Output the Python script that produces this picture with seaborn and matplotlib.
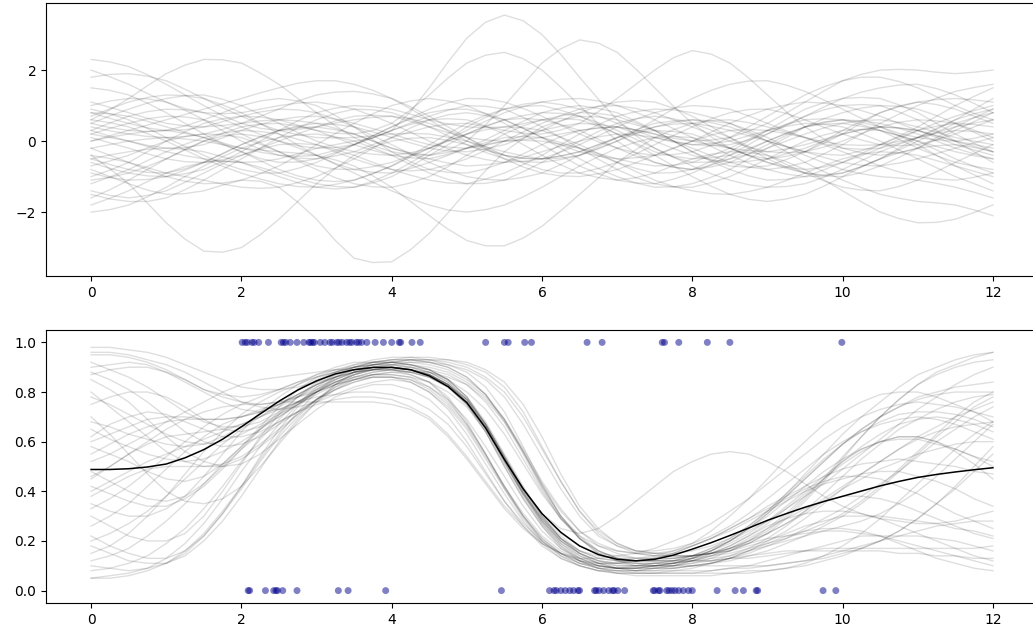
import sys
import numpy as np
import matplotlib
matplotlib.use("Agg")
import matplotlib.pyplot as plt
import seaborn as sns

# ---------------- data ----------------
# sample positions: 0, 0.25, ..., 12 (49 points)
x_grid = [i * 0.25 for i in range(49)]

# prior samples (top panel), values read at x = 0, 0.25, ..., 12
prior_01 = [0.2,0.1,0.0,-0.15,-0.3,-0.41,-0.5,-0.57,-0.6,-0.58,-0.5,-0.36,-0.2,-0.1,0.0,0.09,0.3,0.83,1.5,2.23,2.9,3.35,3.55,3.39,3.0,2.44,1.8,1.18,0.6,0.15,-0.2,-0.46,-0.6,-0.59,-0.5,-0.37,-0.2,0.0,0.2,0.37,0.5,0.58,0.6,0.53,0.4,0.25,0.1,0.0,-0.1]
prior_02 = [-0.5,-0.66,-0.8,-0.88,-0.9,-0.78,-0.6,-0.36,-0.1,0.12,0.3,0.38,0.4,0.32,0.2,0.0,-0.2,-0.33,-0.4,-0.25,0.0,0.46,1.0,1.6,2.2,2.6,2.85,2.76,2.5,2.03,1.5,0.98,0.5,0.12,-0.2,-0.4,-0.5,-0.43,-0.3,-0.06,0.2,0.51,0.8,0.99,1.1,1.03,0.9,0.7,0.5]
prior_03 = [1.0,1.13,1.2,1.19,1.1,0.87,0.6,0.29,0.0,-0.23,-0.4,-0.48,-0.5,-0.42,-0.3,-0.1,0.1,0.26,0.4,0.48,0.5,0.41,0.3,0.22,0.2,0.31,0.5,0.83,1.2,1.6,2.0,2.35,2.55,2.45,2.2,1.78,1.3,0.83,0.4,0.06,-0.2,-0.33,-0.4,-0.33,-0.2,0.04,0.3,0.55,0.8]
prior_04 = [-1.0,-0.82,-0.6,-0.3,0.0,0.26,0.5,0.63,0.7,0.68,0.6,0.45,0.3,0.22,0.2,0.3,0.5,0.88,1.3,1.78,2.2,2.42,2.5,2.32,2.0,1.52,1.0,0.48,0.0,-0.34,-0.6,-0.74,-0.8,-0.68,-0.5,-0.25,0.0,0.22,0.4,0.48,0.5,0.42,0.3,0.15,0.0,-0.15,-0.3,-0.41,-0.5]
prior_05 = [-0.8,-1.0,-1.2,-1.38,-1.5,-1.48,-1.4,-1.24,-1.1,-1.13,-1.3,-1.72,-2.2,-2.8,-3.3,-3.42,-3.4,-3.06,-2.6,-2.02,-1.4,-0.83,-0.3,0.07,0.4,0.58,0.7,0.68,0.6,0.46,0.3,0.15,0.0,-0.11,-0.2,-0.27,-0.3,-0.22,-0.1,0.05,0.2,0.32,0.4,0.37,0.3,0.15,0.0,-0.1,-0.2]
prior_06 = [-0.4,-0.78,-1.2,-1.75,-2.3,-2.76,-3.1,-3.13,-3.0,-2.64,-2.2,-1.7,-1.2,-0.77,-0.4,-0.17,0.0,0.08,0.1,0.02,-0.1,-0.26,-0.4,-0.48,-0.5,-0.42,-0.3,-0.1,0.1,0.27,0.4,0.48,0.5,0.42,0.3,0.15,0.0,-0.15,-0.3,-0.46,-0.6,-0.68,-0.7,-0.62,-0.5,-0.35,-0.2,-0.05,0.1]
prior_07 = [0.8,0.77,0.7,0.56,0.4,0.25,0.1,-0.05,-0.2,-0.25,-0.3,-0.34,-0.4,-0.53,-0.7,-0.98,-1.3,-1.7,-2.1,-2.48,-2.8,-2.95,-2.95,-2.73,-2.4,-1.96,-1.5,-1.04,-0.6,-0.24,0.1,0.32,0.5,0.58,0.6,0.52,0.4,0.25,0.1,-0.02,-0.1,-0.12,-0.1,-0.01,0.1,0.25,0.4,0.51,0.6]
prior_08 = [2.3,2.23,2.1,1.87,1.6,1.3,1.0,0.72,0.5,0.36,0.3,0.33,0.4,0.51,0.6,0.67,0.7,0.63,0.5,0.31,0.1,-0.16,-0.4,-0.62,-0.8,-0.9,-0.9,-0.77,-0.6,-0.36,-0.1,0.16,0.4,0.63,0.8,0.89,0.9,0.78,0.6,0.39,0.2,0.03,-0.1,-0.13,-0.1,0.03,0.2,0.4,0.6]
prior_09 = [-2.0,-1.93,-1.8,-1.57,-1.3,-1.0,-0.7,-0.44,-0.2,-0.03,0.1,0.17,0.2,0.12,0.0,-0.19,-0.4,-0.66,-0.9,-1.08,-1.2,-1.19,-1.1,-0.86,-0.6,-0.29,0.0,0.27,0.5,0.63,0.7,0.63,0.5,0.31,0.1,-0.15,-0.4,-0.66,-0.9,-1.12,-1.3,-1.38,-1.4,-1.28,-1.1,-0.86,-0.6,-0.35,-0.1]
prior_10 = [0.5,0.71,0.9,1.07,1.2,1.28,1.3,1.18,1.0,0.76,0.5,0.24,0.0,-0.17,-0.3,-0.37,-0.4,-0.33,-0.2,0.0,0.2,0.41,0.6,0.72,0.8,0.78,0.7,0.52,0.3,0.05,-0.2,-0.45,-0.7,-0.92,-1.1,-1.23,-1.3,-1.28,-1.2,-1.02,-0.8,-0.55,-0.3,-0.09,0.1,0.22,0.3,0.27,0.2]
prior_11 = [-1.5,-1.63,-1.7,-1.7,-1.6,-1.37,-1.1,-0.8,-0.5,-0.2,0.1,0.37,0.6,0.78,0.9,0.88,0.8,0.62,0.4,0.15,-0.1,-0.32,-0.5,-0.58,-0.6,-0.52,-0.4,-0.2,0.0,0.21,0.4,0.53,0.6,0.57,0.5,0.31,0.1,-0.15,-0.4,-0.61,-0.8,-0.92,-1.0,-1.04,-1.1,-1.19,-1.3,-1.44,-1.6]
prior_12 = [1.5,1.43,1.3,1.07,0.8,0.5,0.2,-0.07,-0.3,-0.49,-0.6,-0.59,-0.5,-0.32,-0.1,0.15,0.4,0.66,0.9,1.08,1.2,1.19,1.1,0.92,0.7,0.45,0.2,-0.02,-0.2,-0.33,-0.4,-0.38,-0.3,-0.12,0.1,0.4,0.7,1.0,1.3,1.53,1.7,1.8,1.8,1.68,1.5,1.25,1.0,0.78,0.6]
prior_13 = [0.0,0.15,0.3,0.45,0.6,0.75,0.9,1.05,1.2,1.36,1.5,1.63,1.7,1.7,1.6,1.43,1.2,0.91,0.6,0.28,0.0,-0.22,-0.4,-0.49,-0.5,-0.42,-0.3,-0.1,0.1,0.23,0.3,0.27,0.2,0.0,-0.2,-0.41,-0.6,-0.73,-0.8,-0.73,-0.6,-0.41,-0.2,0.05,0.3,0.51,0.7,0.86,1.0]
prior_14 = [-0.7,-0.56,-0.4,-0.19,0.0,0.13,0.2,0.18,0.1,-0.09,-0.3,-0.56,-0.8,-1.03,-1.2,-1.29,-1.3,-1.18,-1.0,-0.72,-0.4,-0.1,0.2,0.43,0.6,0.64,0.6,0.42,0.2,-0.1,-0.4,-0.7,-1.0,-1.27,-1.5,-1.64,-1.7,-1.63,-1.5,-1.27,-1.0,-0.73,-0.5,-0.33,-0.2,-0.13,-0.1,-0.18,-0.3]
prior_15 = [0.9,0.77,0.6,0.36,0.1,-0.15,-0.4,-0.63,-0.8,-0.9,-0.9,-0.77,-0.6,-0.36,-0.1,0.15,0.4,0.63,0.8,0.89,0.9,0.78,0.6,0.36,0.1,-0.2,-0.5,-0.77,-1.0,-1.18,-1.3,-1.29,-1.2,-1.02,-0.8,-0.5,-0.2,0.1,0.4,0.63,0.8,0.93,1.0,0.98,0.9,0.72,0.5,0.25,0.0]
prior_16 = [-0.2,-0.4,-0.6,-0.81,-1.0,-1.13,-1.2,-1.18,-1.1,-0.92,-0.7,-0.41,-0.1,0.21,0.5,0.77,1.0,1.13,1.2,1.13,1.0,0.77,0.5,0.2,-0.1,-0.41,-0.7,-0.92,-1.1,-1.18,-1.2,-1.07,-0.9,-0.66,-0.4,-0.1,0.2,0.47,0.7,0.88,1.0,1.03,1.0,0.82,0.6,0.3,0.0,-0.3,-0.6]
prior_17 = [1.8,1.88,1.9,1.83,1.7,1.46,1.2,0.94,0.7,0.48,0.3,0.18,0.1,0.09,0.1,0.15,0.2,0.22,0.2,0.11,0.0,-0.16,-0.3,-0.42,-0.5,-0.48,-0.4,-0.22,0.0,0.29,0.6,0.91,1.2,1.43,1.6,1.69,1.7,1.58,1.4,1.16,0.9,0.64,0.4,0.22,0.1,0.03,0.0,0.08,0.2]
prior_18 = [-1.2,-1.01,-0.8,-0.55,-0.3,-0.09,0.1,0.22,0.3,0.27,0.2,0.05,-0.1,-0.3,-0.5,-0.67,-0.8,-0.84,-0.8,-0.67,-0.5,-0.26,0.0,0.26,0.5,0.72,0.9,0.98,1.0,0.92,0.8,0.6,0.4,0.19,0.0,-0.17,-0.3,-0.33,-0.3,-0.17,0.0,0.21,0.4,0.53,0.6,0.57,0.5,0.31,0.1]
prior_19 = [0.4,0.29,0.2,0.13,0.1,0.13,0.2,0.33,0.5,0.7,0.9,1.13,1.3,1.38,1.4,1.33,1.2,0.97,0.7,0.4,0.1,-0.21,-0.5,-0.73,-0.9,-0.98,-1.0,-0.92,-0.8,-0.61,-0.4,-0.19,0.0,0.17,0.3,0.33,0.3,0.21,0.1,-0.1,-0.3,-0.5,-0.7,-0.87,-1.0,-1.07,-1.1,-1.02,-0.9]
prior_20 = [-0.9,-1.03,-1.1,-1.08,-1.0,-0.82,-0.6,-0.35,-0.1,0.11,0.3,0.42,0.5,0.47,0.4,0.26,0.1,-0.05,-0.2,-0.28,-0.3,-0.22,-0.1,0.09,0.3,0.56,0.8,0.98,1.1,1.14,1.1,0.93,0.7,0.41,0.1,-0.21,-0.5,-0.73,-0.9,-0.98,-1.0,-0.89,-0.7,-0.46,-0.2,0.1,0.4,0.66,0.9]
prior_21 = [2.0,1.81,1.6,1.34,1.1,0.92,0.8,0.77,0.8,0.9,1.0,1.07,1.1,1.02,0.9,0.71,0.5,0.25,0.0,-0.22,-0.4,-0.52,-0.6,-0.57,-0.5,-0.31,-0.1,0.15,0.4,0.62,0.8,0.93,1.0,0.97,0.9,0.71,0.5,0.29,0.1,-0.07,-0.2,-0.23,-0.2,-0.06,0.1,0.33,0.6,0.9,1.2]
prior_22 = [-1.8,-1.61,-1.4,-1.14,-0.9,-0.72,-0.6,-0.56,-0.6,-0.74,-0.9,-1.06,-1.2,-1.28,-1.3,-1.18,-1.0,-0.72,-0.4,-0.1,0.2,0.43,0.6,0.64,0.6,0.47,0.3,0.05,-0.2,-0.42,-0.6,-0.73,-0.8,-0.73,-0.6,-0.36,-0.1,0.16,0.4,0.54,0.6,0.53,0.4,0.16,-0.1,-0.4,-0.7,-0.95,-1.2]
prior_23 = [0.1,-0.05,-0.2,-0.36,-0.5,-0.58,-0.6,-0.52,-0.4,-0.2,0.0,0.2,0.4,0.57,0.7,0.73,0.7,0.56,0.4,0.24,0.1,0.03,0.0,0.04,0.1,0.2,0.3,0.37,0.4,0.32,0.2,0.0,-0.2,-0.41,-0.6,-0.73,-0.8,-0.73,-0.6,-0.36,-0.1,0.2,0.5,0.76,1.0,1.21,1.4,1.51,1.6]
prior_24 = [0.7,0.91,1.1,1.23,1.3,1.28,1.2,1.02,0.8,0.5,0.2,-0.11,-0.4,-0.63,-0.8,-0.88,-0.9,-0.77,-0.6,-0.4,-0.2,-0.04,0.1,0.13,0.1,-0.04,-0.2,-0.4,-0.6,-0.77,-0.9,-0.89,-0.8,-0.57,-0.3,0.0,0.3,0.61,0.9,1.08,1.2,1.23,1.2,1.02,0.8,0.5,0.2,-0.06,-0.3]
prior_25 = [-0.5,-0.39,-0.3,-0.23,-0.2,-0.23,-0.3,-0.44,-0.6,-0.8,-1.0,-1.17,-1.3,-1.35,-1.3,-1.13,-0.9,-0.61,-0.3,0.05,0.4,0.67,0.9,1.04,1.1,1.03,0.9,0.71,0.5,0.29,0.1,-0.03,-0.1,-0.07,0.0,0.15,0.3,0.42,0.5,0.47,0.4,0.21,0.0,-0.25,-0.5,-0.75,-1.0,-1.2,-1.4]
prior_26 = [1.1,0.95,0.8,0.64,0.5,0.43,0.4,0.44,0.5,0.57,0.6,0.57,0.5,0.36,0.2,0.0,-0.2,-0.36,-0.5,-0.62,-0.7,-0.67,-0.6,-0.46,-0.3,-0.14,0.0,0.12,0.2,0.17,0.1,0.0,-0.1,-0.13,-0.1,0.03,0.2,0.44,0.7,0.96,1.2,1.38,1.5,1.58,1.6,1.48,1.3,1.06,0.8]
prior_27 = [-1.4,-1.53,-1.6,-1.53,-1.4,-1.16,-0.9,-0.64,-0.4,-0.23,-0.1,-0.07,-0.1,-0.24,-0.4,-0.6,-0.8,-0.96,-1.1,-1.18,-1.2,-1.07,-0.9,-0.66,-0.4,-0.1,0.2,0.46,0.7,0.83,0.9,0.88,0.8,0.67,0.5,0.26,0.0,-0.3,-0.6,-0.86,-1.1,-1.31,-1.5,-1.61,-1.7,-1.74,-1.8,-1.94,-2.1]
prior_28 = [0.2,0.36,0.5,0.63,0.7,0.68,0.6,0.42,0.2,-0.05,-0.3,-0.52,-0.7,-0.79,-0.8,-0.72,-0.6,-0.41,-0.2,0.05,0.3,0.56,0.8,0.97,1.1,1.18,1.2,1.13,1.0,0.81,0.6,0.35,0.1,-0.15,-0.4,-0.62,-0.8,-0.93,-1.0,-0.98,-0.9,-0.72,-0.5,-0.25,0.0,0.25,0.5,0.66,0.8]
prior_29 = [0.6,0.52,0.4,0.21,0.0,-0.25,-0.5,-0.71,-0.9,-1.07,-1.2,-1.28,-1.3,-1.22,-1.1,-0.91,-0.7,-0.45,-0.2,0.01,0.2,0.32,0.4,0.38,0.3,0.11,-0.1,-0.35,-0.6,-0.86,-1.1,-1.28,-1.4,-1.48,-1.5,-1.42,-1.3,-1.11,-0.9,-0.69,-0.5,-0.37,-0.3,-0.33,-0.4,-0.55,-0.7,-0.85,-1.0]
prior_30 = [-0.2,-0.1,0.0,0.06,0.1,0.06,0.0,-0.1,-0.2,-0.31,-0.4,-0.43,-0.4,-0.26,-0.1,0.1,0.3,0.47,0.6,0.63,0.6,0.42,0.2,-0.1,-0.4,-0.67,-0.9,-1.03,-1.1,-1.03,-0.9,-0.69,-0.5,-0.37,-0.3,-0.32,-0.4,-0.58,-0.8,-1.09,-1.4,-1.71,-2.0,-2.18,-2.3,-2.29,-2.2,-2.01,-1.8]
prior_31 = [0.5,0.38,0.3,0.27,0.3,0.43,0.6,0.8,1.0,1.13,1.2,1.13,1.0,0.72,0.4,0.04,-0.3,-0.58,-0.8,-0.88,-0.9,-0.78,-0.6,-0.36,-0.1,0.12,0.3,0.37,0.4,0.31,0.2,0.08,0.0,0.03,0.1,0.28,0.5,0.79,1.1,1.41,1.7,1.88,2.0,2.02,2.0,1.94,1.9,1.94,2.0]
prior_32 = [0.6,0.88,1.2,1.56,1.9,2.14,2.3,2.29,2.2,1.92,1.6,1.2,0.8,0.43,0.1,-0.13,-0.3,-0.38,-0.4,-0.32,-0.2,-0.09,0.0,0.02,0.0,-0.09,-0.2,-0.35,-0.5,-0.62,-0.7,-0.68,-0.6,-0.41,-0.2,0.05,0.3,0.47,0.6,0.63,0.6,0.47,0.3,0.05,-0.2,-0.41,-0.6,-0.71,-0.8]
prior_33 = [-0.6,-0.77,-0.9,-0.98,-1.0,-0.92,-0.8,-0.57,-0.3,0.0,0.3,0.57,0.8,0.93,1.0,0.97,0.9,0.76,0.6,0.48,0.4,0.38,0.4,0.49,0.6,0.71,0.8,0.78,0.7,0.51,0.3,0.0,-0.3,-0.57,-0.8,-0.98,-1.1,-1.08,-1.0,-0.81,-0.6,-0.35,-0.1,0.11,0.3,0.42,0.5,0.47,0.4]
prior_34 = [0.0,0.11,0.2,0.27,0.3,0.22,0.1,-0.1,-0.3,-0.55,-0.8,-0.98,-1.1,-1.14,-1.1,-0.92,-0.7,-0.41,-0.1,0.21,0.5,0.73,0.9,0.98,1.0,0.87,0.7,0.46,0.2,-0.06,-0.3,-0.43,-0.5,-0.47,-0.4,-0.21,0.0,0.21,0.4,0.52,0.6,0.57,0.5,0.36,0.2,0.0,-0.2,-0.36,-0.5]
prior_35 = [-1.1,-1.02,-0.9,-0.71,-0.5,-0.25,0.0,0.22,0.4,0.48,0.5,0.42,0.3,0.1,-0.1,-0.26,-0.4,-0.47,-0.5,-0.37,-0.2,0.04,0.3,0.56,0.8,0.93,1.0,0.92,0.8,0.56,0.3,0.0,-0.3,-0.53,-0.7,-0.74,-0.7,-0.52,-0.3,0.0,0.3,0.56,0.8,0.97,1.1,1.17,1.2,1.16,1.1]
prior_36 = [0.3,0.51,0.7,0.83,0.9,0.88,0.8,0.62,0.4,0.19,0.0,-0.13,-0.2,-0.18,-0.1,0.09,0.3,0.51,0.7,0.87,1.0,0.98,0.9,0.67,0.4,0.1,-0.2,-0.51,-0.8,-1.03,-1.2,-1.29,-1.3,-1.17,-1.0,-0.76,-0.5,-0.24,0.0,0.17,0.3,0.33,0.3,0.16,0.0,-0.25,-0.5,-0.71,-0.9]
prior_37 = [-0.4,-0.49,-0.6,-0.75,-0.9,-1.0,-1.1,-1.21,-1.3,-1.33,-1.3,-1.17,-1.0,-0.76,-0.5,-0.2,0.1,0.37,0.6,0.74,0.8,0.72,0.6,0.36,0.1,-0.11,-0.3,-0.42,-0.5,-0.47,-0.4,-0.21,0.0,0.25,0.5,0.72,0.9,1.02,1.1,1.07,1.0,0.86,0.7,0.5,0.3,0.1,-0.1,-0.25,-0.4]
prior_38 = [0.8,0.64,0.5,0.37,0.3,0.32,0.4,0.55,0.7,0.82,0.9,0.88,0.8,0.62,0.4,0.15,-0.1,-0.36,-0.6,-0.82,-1.0,-1.08,-1.1,-1.02,-0.9,-0.66,-0.4,-0.15,0.1,0.32,0.5,0.57,0.6,0.52,0.4,0.21,0.0,-0.16,-0.3,-0.37,-0.4,-0.27,-0.1,0.14,0.4,0.7,1.0,1.26,1.5]
prior_39 = [-1.6,-1.37,-1.1,-0.8,-0.5,-0.23,0.0,0.14,0.2,0.13,0.0,-0.19,-0.4,-0.65,-0.9,-1.16,-1.4,-1.62,-1.8,-1.94,-2.0,-1.93,-1.8,-1.57,-1.3,-1.0,-0.7,-0.44,-0.2,-0.03,0.1,0.13,0.1,-0.04,-0.2,-0.4,-0.6,-0.77,-0.9,-0.95,-0.9,-0.72,-0.5,-0.2,0.1,0.36,0.6,0.77,0.9]
prior_40 = [0.3,0.14,0.0,-0.12,-0.2,-0.18,-0.1,0.09,0.3,0.47,0.6,0.68,0.7,0.62,0.5,0.35,0.2,0.04,-0.1,-0.17,-0.2,-0.12,0.0,0.15,0.3,0.42,0.5,0.47,0.4,0.21,0.0,-0.21,-0.4,-0.53,-0.6,-0.57,-0.5,-0.36,-0.2,0.0,0.2,0.32,0.4,0.37,0.3,0.15,0.0,-0.15,-0.3]

# posterior samples of the class probability (bottom panel), x = 0, 0.25, ..., 12
post_01 = [0.95,0.95,0.94,0.92,0.89,0.85,0.81,0.79,0.78,0.79,0.81,0.84,0.87,0.89,0.90,0.91,0.91,0.90,0.88,0.84,0.77,0.66,0.52,0.38,0.27,0.19,0.14,0.11,0.10,0.10,0.11,0.12,0.14,0.17,0.20,0.24,0.28,0.33,0.38,0.43,0.49,0.55,0.61,0.67,0.73,0.78,0.83,0.87,0.90]
post_02 = [0.08,0.09,0.11,0.14,0.19,0.25,0.33,0.42,0.52,0.61,0.69,0.76,0.81,0.85,0.88,0.89,0.89,0.87,0.84,0.78,0.68,0.55,0.41,0.29,0.20,0.14,0.11,0.09,0.08,0.08,0.09,0.10,0.12,0.15,0.18,0.22,0.26,0.29,0.31,0.32,0.32,0.31,0.29,0.26,0.23,0.20,0.17,0.14,0.12]
post_03 = [0.55,0.59,0.63,0.66,0.68,0.69,0.69,0.69,0.70,0.72,0.75,0.79,0.83,0.86,0.88,0.89,0.89,0.88,0.86,0.82,0.75,0.64,0.50,0.37,0.26,0.18,0.13,0.10,0.09,0.08,0.08,0.09,0.10,0.11,0.13,0.15,0.18,0.21,0.25,0.29,0.33,0.38,0.43,0.48,0.54,0.60,0.65,0.70,0.74]
post_04 = [0.30,0.26,0.22,0.20,0.20,0.23,0.30,0.40,0.51,0.62,0.71,0.78,0.84,0.88,0.91,0.93,0.94,0.94,0.93,0.91,0.88,0.82,0.72,0.58,0.43,0.30,0.21,0.15,0.12,0.10,0.10,0.10,0.11,0.13,0.16,0.20,0.25,0.31,0.38,0.45,0.52,0.58,0.63,0.67,0.69,0.70,0.69,0.67,0.64]
post_05 = [0.85,0.81,0.76,0.69,0.62,0.56,0.52,0.50,0.51,0.55,0.61,0.67,0.73,0.78,0.81,0.83,0.83,0.81,0.77,0.70,0.60,0.48,0.36,0.26,0.18,0.13,0.10,0.08,0.07,0.07,0.07,0.08,0.09,0.11,0.13,0.16,0.19,0.22,0.24,0.25,0.25,0.24,0.22,0.19,0.16,0.13,0.11,0.09,0.08]
post_06 = [0.15,0.18,0.23,0.30,0.38,0.47,0.56,0.64,0.71,0.76,0.80,0.83,0.86,0.88,0.90,0.92,0.93,0.94,0.94,0.93,0.92,0.89,0.84,0.75,0.62,0.47,0.34,0.25,0.19,0.16,0.15,0.15,0.16,0.18,0.21,0.26,0.32,0.39,0.46,0.53,0.59,0.64,0.68,0.71,0.72,0.72,0.71,0.69,0.66]
post_07 = [0.70,0.63,0.55,0.47,0.40,0.36,0.35,0.37,0.42,0.50,0.59,0.68,0.76,0.83,0.88,0.91,0.92,0.92,0.91,0.89,0.85,0.79,0.69,0.56,0.42,0.30,0.22,0.16,0.13,0.12,0.12,0.12,0.12,0.13,0.14,0.16,0.18,0.20,0.22,0.24,0.26,0.28,0.31,0.35,0.40,0.46,0.53,0.60,0.67]
post_08 = [0.40,0.44,0.48,0.52,0.55,0.58,0.61,0.64,0.67,0.70,0.73,0.76,0.78,0.79,0.80,0.80,0.79,0.77,0.73,0.67,0.58,0.47,0.36,0.27,0.20,0.15,0.12,0.10,0.09,0.09,0.10,0.11,0.13,0.16,0.20,0.25,0.31,0.38,0.45,0.52,0.59,0.65,0.70,0.74,0.77,0.79,0.80,0.80,0.80]
post_09 = [0.98,0.98,0.97,0.96,0.94,0.91,0.88,0.85,0.82,0.81,0.81,0.82,0.84,0.86,0.88,0.89,0.89,0.88,0.86,0.82,0.75,0.65,0.52,0.39,0.28,0.20,0.14,0.11,0.09,0.08,0.08,0.08,0.08,0.08,0.09,0.09,0.10,0.11,0.12,0.14,0.16,0.18,0.20,0.22,0.24,0.26,0.27,0.28,0.28]
post_10 = [0.22,0.18,0.15,0.13,0.13,0.16,0.22,0.31,0.42,0.54,0.65,0.74,0.81,0.86,0.89,0.91,0.92,0.93,0.93,0.93,0.91,0.88,0.82,0.72,0.58,0.44,0.32,0.23,0.18,0.15,0.14,0.14,0.14,0.15,0.17,0.20,0.24,0.30,0.37,0.45,0.54,0.62,0.70,0.77,0.83,0.87,0.90,0.92,0.93]
post_11 = [0.62,0.67,0.70,0.72,0.71,0.68,0.65,0.62,0.62,0.64,0.68,0.72,0.77,0.81,0.84,0.86,0.86,0.84,0.80,0.73,0.63,0.51,0.39,0.28,0.19,0.13,0.10,0.08,0.07,0.07,0.07,0.07,0.07,0.07,0.07,0.08,0.08,0.09,0.10,0.12,0.14,0.17,0.20,0.24,0.29,0.35,0.41,0.48,0.55]
post_12 = [0.05,0.05,0.06,0.08,0.11,0.16,0.23,0.32,0.42,0.53,0.63,0.72,0.80,0.86,0.90,0.92,0.93,0.93,0.92,0.90,0.86,0.79,0.68,0.55,0.41,0.29,0.21,0.16,0.13,0.12,0.12,0.12,0.13,0.15,0.18,0.22,0.27,0.33,0.39,0.45,0.51,0.56,0.60,0.62,0.62,0.60,0.56,0.51,0.45]
post_13 = [0.48,0.44,0.40,0.37,0.36,0.38,0.43,0.50,0.57,0.63,0.68,0.72,0.75,0.77,0.78,0.78,0.77,0.74,0.70,0.63,0.54,0.44,0.34,0.26,0.19,0.15,0.12,0.11,0.11,0.12,0.13,0.15,0.18,0.21,0.25,0.29,0.33,0.37,0.41,0.44,0.46,0.46,0.45,0.42,0.39,0.35,0.31,0.28,0.25]
post_14 = [0.90,0.91,0.92,0.91,0.88,0.84,0.80,0.76,0.73,0.72,0.73,0.76,0.80,0.84,0.87,0.89,0.90,0.90,0.89,0.87,0.83,0.76,0.66,0.53,0.40,0.29,0.21,0.16,0.13,0.12,0.12,0.12,0.13,0.14,0.15,0.17,0.19,0.21,0.24,0.27,0.31,0.36,0.42,0.49,0.56,0.63,0.70,0.76,0.80]
post_15 = [0.35,0.32,0.30,0.30,0.33,0.38,0.46,0.55,0.64,0.72,0.78,0.83,0.87,0.90,0.92,0.92,0.92,0.91,0.89,0.85,0.78,0.67,0.53,0.39,0.27,0.18,0.12,0.09,0.07,0.06,0.06,0.06,0.06,0.06,0.07,0.07,0.08,0.09,0.11,0.14,0.18,0.23,0.29,0.36,0.43,0.50,0.57,0.63,0.68]
post_16 = [0.75,0.78,0.80,0.80,0.78,0.74,0.69,0.65,0.64,0.66,0.70,0.75,0.80,0.85,0.88,0.90,0.91,0.92,0.92,0.91,0.89,0.85,0.78,0.67,0.54,0.41,0.30,0.22,0.18,0.16,0.16,0.17,0.19,0.22,0.26,0.31,0.37,0.43,0.49,0.55,0.60,0.64,0.67,0.69,0.70,0.69,0.67,0.64,0.61]
post_17 = [0.12,0.14,0.17,0.22,0.28,0.35,0.43,0.51,0.58,0.65,0.71,0.76,0.80,0.83,0.85,0.87,0.87,0.86,0.82,0.76,0.67,0.55,0.42,0.30,0.21,0.15,0.11,0.10,0.09,0.10,0.11,0.12,0.14,0.17,0.21,0.26,0.32,0.39,0.47,0.55,0.63,0.70,0.76,0.82,0.87,0.90,0.93,0.95,0.96]
post_18 = [0.58,0.55,0.52,0.48,0.45,0.44,0.46,0.51,0.58,0.66,0.74,0.81,0.86,0.89,0.91,0.92,0.92,0.91,0.89,0.85,0.78,0.67,0.54,0.41,0.30,0.22,0.16,0.13,0.12,0.11,0.11,0.11,0.12,0.12,0.13,0.13,0.14,0.15,0.16,0.16,0.16,0.16,0.16,0.15,0.15,0.14,0.14,0.13,0.13]
post_19 = [0.26,0.30,0.35,0.42,0.49,0.56,0.62,0.67,0.70,0.73,0.75,0.78,0.80,0.83,0.85,0.86,0.86,0.85,0.82,0.77,0.69,0.58,0.46,0.34,0.24,0.17,0.13,0.11,0.11,0.12,0.13,0.15,0.18,0.21,0.25,0.29,0.34,0.38,0.42,0.46,0.49,0.51,0.52,0.53,0.52,0.51,0.50,0.48,0.47]
post_20 = [0.80,0.74,0.68,0.62,0.56,0.52,0.50,0.50,0.53,0.58,0.64,0.71,0.77,0.83,0.87,0.90,0.91,0.91,0.90,0.88,0.84,0.78,0.69,0.57,0.44,0.33,0.24,0.18,0.15,0.13,0.13,0.13,0.14,0.16,0.19,0.23,0.28,0.34,0.40,0.46,0.52,0.57,0.60,0.62,0.62,0.60,0.57,0.54,0.50]
post_21 = [0.45,0.50,0.55,0.59,0.62,0.63,0.64,0.65,0.67,0.70,0.74,0.78,0.82,0.85,0.88,0.89,0.90,0.89,0.87,0.83,0.77,0.67,0.54,0.41,0.31,0.23,0.18,0.15,0.14,0.13,0.13,0.13,0.14,0.15,0.17,0.20,0.23,0.27,0.32,0.37,0.42,0.47,0.52,0.57,0.62,0.66,0.70,0.73,0.76]
post_22 = [0.18,0.15,0.12,0.11,0.11,0.14,0.20,0.28,0.38,0.49,0.60,0.69,0.76,0.81,0.85,0.87,0.88,0.87,0.84,0.77,0.67,0.55,0.42,0.30,0.20,0.14,0.10,0.08,0.08,0.08,0.09,0.10,0.12,0.14,0.17,0.21,0.25,0.29,0.33,0.36,0.38,0.38,0.37,0.35,0.32,0.29,0.26,0.23,0.21]
post_23 = [0.92,0.89,0.86,0.82,0.77,0.72,0.68,0.66,0.66,0.68,0.72,0.76,0.80,0.84,0.87,0.89,0.90,0.89,0.87,0.83,0.76,0.66,0.53,0.40,0.29,0.20,0.15,0.12,0.11,0.10,0.10,0.11,0.12,0.14,0.16,0.19,0.23,0.27,0.31,0.36,0.41,0.45,0.49,0.52,0.55,0.57,0.59,0.60,0.60]
post_24 = [0.65,0.61,0.58,0.55,0.53,0.52,0.53,0.56,0.60,0.65,0.70,0.75,0.80,0.84,0.87,0.89,0.90,0.89,0.87,0.83,0.76,0.65,0.52,0.39,0.29,0.21,0.16,0.14,0.13,0.13,0.14,0.16,0.19,0.24,0.30,0.37,0.45,0.53,0.60,0.67,0.72,0.76,0.79,0.80,0.80,0.78,0.75,0.72,0.68]
post_25 = [0.38,0.42,0.46,0.49,0.50,0.50,0.50,0.51,0.54,0.59,0.65,0.71,0.77,0.82,0.86,0.88,0.89,0.88,0.86,0.82,0.75,0.64,0.50,0.37,0.26,0.17,0.12,0.09,0.08,0.07,0.07,0.07,0.07,0.08,0.09,0.10,0.12,0.14,0.16,0.18,0.20,0.22,0.22,0.22,0.22,0.21,0.20,0.18,0.16]
post_26 = [0.10,0.09,0.08,0.09,0.11,0.15,0.22,0.31,0.41,0.52,0.62,0.70,0.77,0.82,0.85,0.87,0.88,0.88,0.88,0.86,0.83,0.77,0.68,0.56,0.43,0.32,0.24,0.19,0.16,0.15,0.14,0.14,0.14,0.15,0.16,0.18,0.20,0.23,0.26,0.28,0.30,0.30,0.30,0.29,0.28,0.27,0.25,0.24,0.22]
post_27 = [0.88,0.85,0.81,0.76,0.70,0.64,0.60,0.58,0.59,0.62,0.67,0.72,0.77,0.81,0.84,0.86,0.86,0.85,0.81,0.75,0.66,0.54,0.42,0.31,0.22,0.16,0.12,0.10,0.09,0.09,0.10,0.11,0.13,0.16,0.20,0.25,0.30,0.36,0.42,0.48,0.53,0.57,0.60,0.61,0.61,0.59,0.57,0.54,0.52]
post_28 = [0.52,0.55,0.59,0.63,0.68,0.72,0.76,0.80,0.83,0.85,0.86,0.87,0.88,0.89,0.89,0.90,0.90,0.89,0.87,0.83,0.77,0.67,0.54,0.40,0.28,0.19,0.13,0.10,0.09,0.09,0.09,0.09,0.10,0.11,0.12,0.14,0.16,0.19,0.22,0.26,0.30,0.35,0.41,0.48,0.55,0.62,0.68,0.74,0.78]
post_29 = [0.42,0.39,0.36,0.34,0.34,0.37,0.42,0.49,0.57,0.65,0.72,0.78,0.83,0.87,0.89,0.90,0.90,0.89,0.87,0.83,0.76,0.66,0.53,0.41,0.31,0.25,0.23,0.25,0.30,0.36,0.42,0.48,0.52,0.55,0.56,0.55,0.52,0.48,0.43,0.38,0.34,0.31,0.29,0.28,0.27,0.27,0.28,0.30,0.32]
post_30 = [0.60,0.63,0.66,0.69,0.70,0.70,0.69,0.69,0.70,0.72,0.75,0.79,0.83,0.86,0.89,0.91,0.92,0.93,0.93,0.92,0.90,0.86,0.80,0.70,0.57,0.44,0.32,0.24,0.19,0.16,0.15,0.14,0.14,0.15,0.16,0.19,0.23,0.29,0.36,0.44,0.53,0.62,0.70,0.77,0.83,0.88,0.91,0.94,0.96]
post_31 = [0.20,0.23,0.27,0.32,0.38,0.45,0.52,0.59,0.65,0.70,0.75,0.79,0.83,0.86,0.88,0.90,0.90,0.89,0.87,0.83,0.76,0.66,0.53,0.40,0.29,0.21,0.16,0.13,0.12,0.12,0.12,0.13,0.14,0.15,0.17,0.19,0.21,0.22,0.23,0.24,0.24,0.23,0.22,0.20,0.18,0.16,0.14,0.12,0.10]
post_32 = [0.96,0.96,0.95,0.93,0.91,0.88,0.84,0.80,0.76,0.74,0.73,0.74,0.76,0.79,0.82,0.84,0.85,0.84,0.80,0.74,0.65,0.53,0.41,0.30,0.21,0.15,0.11,0.09,0.09,0.09,0.10,0.11,0.13,0.16,0.20,0.25,0.31,0.38,0.45,0.52,0.59,0.65,0.70,0.74,0.78,0.80,0.82,0.83,0.84]
post_33 = [0.33,0.37,0.42,0.48,0.54,0.60,0.66,0.71,0.75,0.78,0.81,0.84,0.86,0.88,0.90,0.91,0.91,0.90,0.88,0.84,0.77,0.67,0.54,0.41,0.30,0.21,0.15,0.12,0.10,0.10,0.10,0.10,0.11,0.12,0.14,0.17,0.21,0.26,0.32,0.39,0.46,0.53,0.59,0.65,0.69,0.73,0.76,0.78,0.79]
post_34 = [0.78,0.75,0.71,0.67,0.63,0.60,0.59,0.60,0.63,0.67,0.71,0.75,0.79,0.83,0.86,0.88,0.89,0.89,0.88,0.85,0.80,0.73,0.63,0.51,0.39,0.29,0.22,0.18,0.16,0.15,0.15,0.16,0.18,0.21,0.24,0.28,0.32,0.36,0.40,0.43,0.45,0.47,0.48,0.48,0.46,0.44,0.41,0.37,0.34]
post_35 = [0.05,0.06,0.07,0.09,0.13,0.19,0.27,0.37,0.48,0.58,0.67,0.75,0.82,0.87,0.90,0.92,0.93,0.93,0.92,0.90,0.86,0.79,0.69,0.56,0.42,0.30,0.21,0.15,0.12,0.11,0.10,0.10,0.10,0.10,0.10,0.10,0.10,0.11,0.12,0.13,0.15,0.17,0.20,0.24,0.29,0.35,0.42,0.50,0.58]
post_36 = [0.68,0.66,0.63,0.61,0.59,0.58,0.59,0.62,0.66,0.71,0.76,0.81,0.85,0.88,0.90,0.91,0.92,0.91,0.89,0.85,0.78,0.68,0.55,0.42,0.30,0.21,0.15,0.11,0.09,0.09,0.09,0.09,0.10,0.11,0.13,0.16,0.20,0.24,0.29,0.35,0.41,0.47,0.52,0.57,0.61,0.64,0.66,0.67,0.68]
post_37 = [0.46,0.50,0.55,0.60,0.65,0.69,0.72,0.74,0.75,0.75,0.76,0.76,0.76,0.76,0.76,0.76,0.75,0.73,0.69,0.62,0.53,0.43,0.33,0.25,0.19,0.15,0.13,0.13,0.14,0.15,0.17,0.20,0.23,0.27,0.32,0.37,0.43,0.49,0.55,0.61,0.66,0.70,0.73,0.75,0.76,0.75,0.74,0.72,0.70]
post_38 = [0.87,0.89,0.90,0.90,0.88,0.85,0.81,0.78,0.76,0.75,0.76,0.78,0.81,0.84,0.86,0.87,0.87,0.86,0.84,0.80,0.74,0.64,0.51,0.39,0.28,0.20,0.15,0.12,0.11,0.11,0.11,0.11,0.12,0.12,0.13,0.14,0.15,0.16,0.16,0.17,0.17,0.17,0.17,0.17,0.17,0.17,0.17,0.17,0.18]

# posterior mean probability (black line), x = 0, 0.25, ..., 12
post_mean = [0.488,0.488,0.491,0.498,0.51,0.535,0.568,0.61,0.66,0.712,0.763,0.808,0.845,0.873,0.89,0.899,
             0.899,0.89,0.865,0.822,0.757,0.655,0.528,0.41,0.31,0.235,0.18,0.145,0.126,0.12,0.126,0.143,
             0.167,0.193,0.222,0.252,0.283,0.31,0.336,0.359,0.38,0.401,0.422,0.44,0.456,0.468,0.478,0.487,0.495]

# observations
obs_x_pos = [2.01,2.05,2.08,2.14,2.17,2.23,2.36,2.53,2.56,2.59,2.65,2.74,2.83,2.90,2.92,2.95,2.97,
             3.05,3.11,3.18,3.21,3.27,3.30,3.34,3.40,3.44,3.47,3.53,3.56,3.60,3.67,3.78,3.89,4.00,
             4.10,4.12,4.27,4.38,5.25,5.50,5.55,5.77,5.86,6.60,6.80,7.60,7.63,7.82,8.20,8.50,9.99]
obs_x_neg = [2.09,2.11,2.32,2.43,2.46,2.48,2.55,2.74,3.29,3.42,3.92,5.46,6.10,6.16,6.19,6.25,6.31,
             6.37,6.42,6.48,6.50,6.70,6.72,6.76,6.82,6.89,6.94,6.96,7.01,7.10,7.48,7.50,7.55,7.57,
             7.66,7.69,7.73,7.77,7.82,7.88,7.95,8.00,8.33,8.57,8.68,8.85,8.87,9.74,9.91]
obs_label_pos = 1.0
obs_label_neg = 0.0

prior_curves = [prior_01, prior_02, prior_03, prior_04, prior_05, prior_06, prior_07, prior_08,
                prior_09, prior_10, prior_11, prior_12, prior_13, prior_14, prior_15, prior_16,
                prior_17, prior_18, prior_19, prior_20, prior_21, prior_22, prior_23, prior_24,
                prior_25, prior_26, prior_27, prior_28, prior_29, prior_30, prior_31, prior_32,
                prior_33, prior_34, prior_35, prior_36, prior_37, prior_38, prior_39, prior_40]
post_curves = [post_01, post_02, post_03, post_04, post_05, post_06, post_07, post_08, post_09,
               post_10, post_11, post_12, post_13, post_14, post_15, post_16, post_17, post_18,
               post_19, post_20, post_21, post_22, post_23, post_24, post_25, post_26, post_27,
               post_28, post_29, post_30, post_31, post_32, post_33, post_34, post_35, post_36,
               post_37, post_38]

# ---------------- figure ----------------
W, H = 1033, 639
fig = plt.figure(figsize=(W / 100, H / 100), dpi=100)
ax1 = fig.add_axes([46 / W, (H - 276) / H, (1038 - 46) / W, 273 / H])
ax2 = fig.add_axes([46 / W, (H - 603) / H, (1038 - 46) / W, 273 / H])


def draw(ax, ys, **kw):
    n = min(len(ys), len(x_grid))
    if len(ys) != len(x_grid):
        print("length mismatch", len(ys), file=sys.stderr)
    sns.lineplot(x=x_grid[:n], y=ys[:n], ax=ax, sort=False, errorbar=None,
                 legend=False, **kw)


for c in prior_curves:
    draw(ax1, c, color="black", alpha=0.13, linewidth=1.0)

for c in post_curves:
    draw(ax2, c, color="black", alpha=0.13, linewidth=1.0)

draw(ax2, post_mean, color="black", linewidth=1.1)

sns.scatterplot(x=obs_x_pos, y=[obs_label_pos] * len(obs_x_pos), ax=ax2, color="darkblue",
                alpha=0.5, s=25, edgecolor="none", legend=False)
sns.scatterplot(x=obs_x_neg, y=[obs_label_neg] * len(obs_x_neg), ax=ax2, color="darkblue",
                alpha=0.5, s=25, edgecolor="none", legend=False)

for ax in (ax1, ax2):
    ax.set_xlim(-0.6, 12.6)
    ax.set_xticks([0, 2, 4, 6, 8, 10, 12])
    ax.set_xlabel("")
    ax.set_ylabel("")

ax1.set_ylim(-3.80, 3.89)
ax1.set_yticks([-2, 0, 2])
ax2.set_ylim(-0.05, 1.05)
ax2.set_yticks([0.0, 0.2, 0.4, 0.6, 0.8, 1.0])

fig.savefig("out.png", dpi=100)
